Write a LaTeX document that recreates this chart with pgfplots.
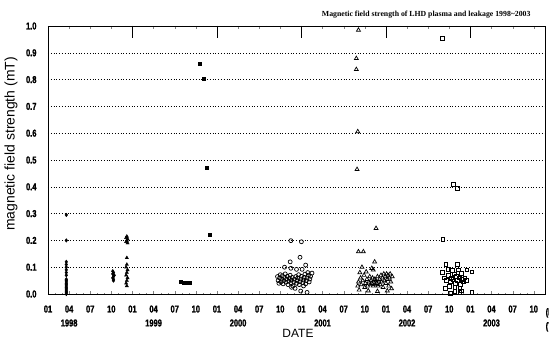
\documentclass[border=0pt]{standalone}
\usepackage{fontspec}
\setmainfont{Liberation Sans}
\newfontfamily\tickfont[FakeStretch=0.75,FakeBold=1.5]{Liberation Sans}
\newfontfamily\titlefont{Liberation Serif}
\usepackage{pgfplots}
\pgfplotsset{compat=1.18}
\begin{document}
\begin{tikzpicture}
\useasboundingbox (-48bp,-46bp) rectangle (501bp,294bp);
\begin{axis}[
  at={(0,0)}, anchor=south west,
  width=497bp, height=268bp, scale only axis,
  xmin=0, xmax=70.6, ymin=0, ymax=1.0,
  axis line style={black, line width=0.8pt},
  xtick={0,3,...,69},
  xticklabels={01,{04\\1998},07,10,01,{04\\1999},07,10,01,{04\\2000},07,10,01,{04\\2001},07,10,01,{04\\2002},07,10,01,{04\\2003},07,10},
  xticklabel style={align=center, font=\tickfont\bfseries\fontsize{10}{14}\selectfont, yshift=-8bp},
  ytick={0,0.1,...,1.0},
  yticklabels={0.0,0.1,0.2,0.3,0.4,0.5,0.6,0.7,0.8,0.9,1.0},
  yticklabel style={font=\tickfont\bfseries\fontsize{10}{10}\selectfont, xshift=-8bp},
  ytick style={draw=none},
  xtick pos=both, tick align=inside,
  major tick length=3bp, minor x tick num=2, minor tick length=1.5bp,
  ymajorgrids,
  major grid style={black, line width=0.5pt, dash pattern=on 1pt off 1.8pt},
  clip=false,
]
% year markers at top
\pgfplotsinvokeforeach{12,24,36,48,60}{\draw[black, line width=0.6pt] (axis cs:#1,1) -- (axis cs:#1,0.955);}

% 1998 filled diamonds
\addplot[only marks, mark=diamond*, mark size=1.8pt, black] coordinates {
(2.6,0.295)(2.6,0.2)(2.6,0.12)(2.6,0.11)(2.6,0.10)(2.6,0.09)(2.6,0.08)(2.6,0.07)
(2.6,0.055)(2.6,0.05)(2.6,0.045)(2.6,0.04)(2.6,0.035)(2.6,0.03)(2.6,0.025)(2.6,0.02)
(2.6,0.015)(2.6,0.01)(2.6,0.005)(2.6,0.0)
(9.2,0.085)(9.3,0.08)(9.2,0.075)(9.4,0.07)(9.3,0.065)(9.2,0.06)(9.3,0.055)(9.3,0.05)
};
\addplot[only marks, mark=triangle*, mark size=1.9pt, black] coordinates {
(11.2,0.215)(11.1,0.21)(11.3,0.205)(11.2,0.2)(11.1,0.195)(11.3,0.19)(11.2,0.135)
(11.2,0.11)(11.1,0.1)(11.3,0.09)(11.2,0.08)(11.1,0.07)(11.3,0.06)(11.2,0.05)(11.1,0.04)(11.2,0.03)
};
% 1999 filled squares
\addplot[only marks, mark=square*, mark size=1.5pt, black] coordinates {
(18.8,0.046)(19.3,0.044)(19.8,0.042)(20.2,0.041)
(21.6,0.861)(22.1,0.805)(22.6,0.471)(22.9,0.223)
};
% 2000-2001 open circles
\addplot[only marks, mark=o, mark size=2pt, black, line width=0.7pt] coordinates {
(34.5,0.199)(36.0,0.195)(35.8,0.137)(34.4,0.12)(33.6,0.10)(34.5,0.096)(35.3,0.092)
(36.6,0.108)(36.9,0.08)(36.1,0.092)
(32.6,0.065)(32.7,0.05)(32.8,0.04)(32.9,0.06)(33.0,0.072)(33.1,0.045)(33.2,0.055)
(33.3,0.068)(33.4,0.038)(33.5,0.05)(33.6,0.062)(33.7,0.075)(33.8,0.044)(33.9,0.056)
(34.0,0.066)(34.1,0.035)(34.2,0.048)(34.3,0.058)(34.4,0.07)(34.5,0.042)(34.6,0.052)
(34.7,0.062)(34.8,0.03)(34.9,0.045)(35.0,0.055)(35.2,0.065)(35.3,0.04)(35.4,0.05)
(35.5,0.06)(35.6,0.072)(35.7,0.035)(35.8,0.046)(35.9,0.056)(36.0,0.066)(36.2,0.042)
(36.3,0.052)(36.4,0.062)(36.5,0.074)(36.6,0.038)(36.7,0.05)(36.8,0.06)(37.0,0.07)
(37.1,0.045)(37.2,0.056)(37.3,0.066)(37.5,0.078)(36.3,0.03)
(35.1,0.021)(35.9,0.011)(36.8,0.006)(34.6,0.025)
};
% 2001 open triangles
\addplot[only marks, mark=triangle, mark size=2.3pt, black, line width=0.7pt] coordinates {
(44.1,0.985)(43.8,0.879)(43.8,0.838)(44.0,0.606)(43.9,0.465)(46.6,0.245)
(44.1,0.158)(44.8,0.158)(46.4,0.12)(44.6,0.1)(46.0,0.096)(46.2,0.09)
(44.0,0.03)(44.1,0.045)(44.2,0.015)(44.4,0.06)(44.5,0.035)(44.7,0.05)(44.9,0.07)
(45.0,0.025)(45.1,0.04)(45.3,0.055)(45.4,0.03)(45.6,0.045)(45.7,0.065)(45.8,0.035)
(45.9,0.05)(46.0,0.04)(46.1,0.06)(46.2,0.03)(46.3,0.045)(46.4,0.055)(46.5,0.035)
(46.6,0.05)(46.7,0.04)(46.8,0.065)(46.9,0.03)(47.0,0.045)(47.1,0.055)(47.2,0.035)
(47.3,0.07)(47.4,0.045)(47.5,0.06)(47.6,0.025)(47.7,0.075)(47.8,0.05)(47.9,0.065)
(48.0,0.04)(48.1,0.075)(48.2,0.055)(48.3,0.07)(48.4,0.03)(48.5,0.06)(48.6,0.075)
(48.7,0.045)(48.8,0.02)(48.9,0.065)(45.5,0.012)(46.8,0.01)(48.2,0.012)(44.3,0.08)(45.2,0.083)
};
% 2002 open squares
\addplot[only marks, mark=square, mark size=1.9pt, black, line width=0.7pt] coordinates {
(56.0,0.954)(57.6,0.41)(58.2,0.394)(56.1,0.205)(56.5,0.112)(58.2,0.112)
(56.0,0.08)(56.8,0.092)(57.4,0.087)(58.3,0.09)(58.7,0.077)(59.5,0.09)(60.2,0.083)
(56.3,0.06)(56.6,0.05)(56.9,0.07)(57.1,0.045)(57.3,0.06)(57.5,0.055)(57.7,0.075)
(57.9,0.04)(58.0,0.065)(58.2,0.05)(58.4,0.06)(58.6,0.035)(58.8,0.055)(59.0,0.045)
(59.2,0.06)(59.4,0.05)(57.0,0.03)(57.8,0.025)(58.5,0.02)
(56.4,0.021)(57.8,0.01)(58.5,0.006)(58.7,0.012)(60.2,0.005)(57.2,0.003)
};

\node[font=\titlefont\bfseries\fontsize{7.8}{9}\selectfont, inner sep=0] at (rel axis cs:0.761,1) [yshift=11bp] {Magnetic field strength of LHD plasma and leakage 1998\textasciitilde2003};
\node[xshift=-37bp, rotate=90, font=\fontsize{14}{16}\selectfont, inner sep=0] at (rel axis cs:0,0.56) {magnetic field strength (mT)};
\node[anchor=north, inner sep=0, font=\fontsize{12}{14}\selectfont] at (rel axis cs:0.503,0) [yshift=-35bp] {DATE};
\node[anchor=north west, inner sep=0, align=left, font=\tickfont\bfseries\fontsize{10}{14}\selectfont] at (rel axis cs:1.0,0) [xshift=0.5bp, yshift=-14bp] {(Month)\\(Year)};
\end{axis}
\end{tikzpicture}
\end{document}
